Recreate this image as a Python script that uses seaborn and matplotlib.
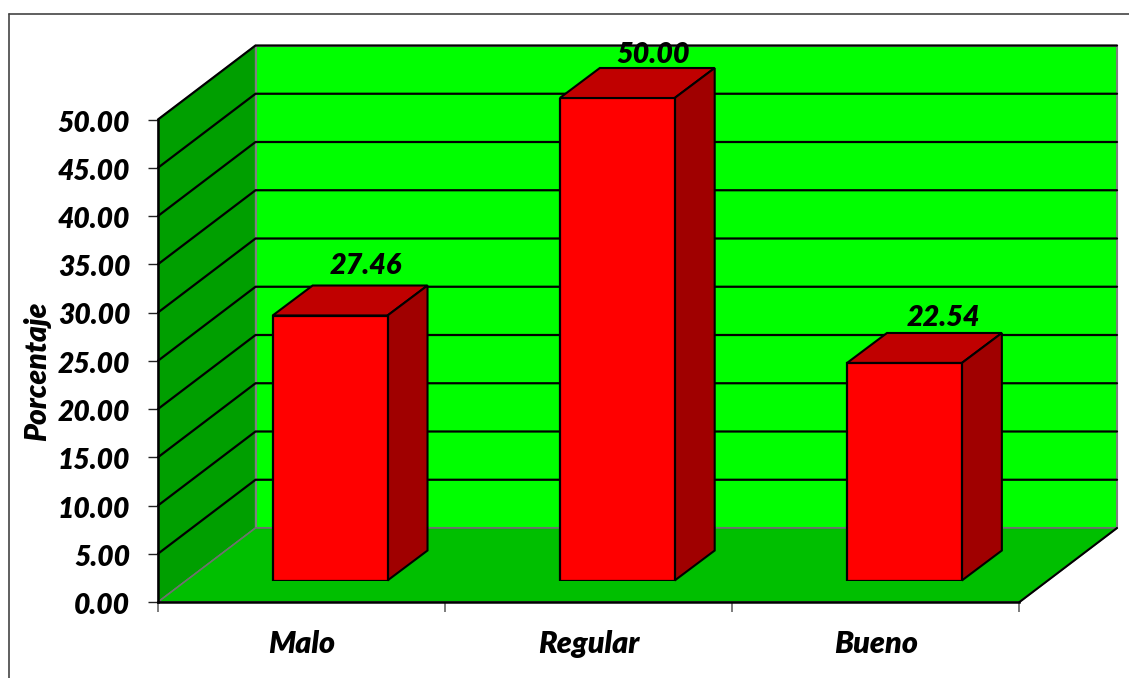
import numpy as np
import pandas as pd
import matplotlib
matplotlib.use("Agg")
import matplotlib.pyplot as plt
from matplotlib.lines import Line2D
from matplotlib.patches import Polygon
from matplotlib.transforms import ScaledTranslation
import seaborn as sns

categories = ["Malo", "Regular", "Bueno"]
values = [27.46, 50.00, 22.54]
y_ticks = [0, 5, 10, 15, 20, 25, 30, 35, 40, 45, 50]
y_label = "Porcentaje"
label_nudge_y_pts = [1.5, -3, -1.5]
label_nudge_x_pts = [-3.3, -3.3, -1]

sns.set_theme(style="white")
plt.rcParams["font.family"] = ["Lato", "DejaVu Sans"]

W, H = 1129, 678
fig = plt.figure(figsize=(W / 100, H / 100), dpi=100, facecolor="white")

# pixel geometry of the front plane
L, R, B, T = 158, 1019.5, 602, 119.5
ax = fig.add_axes([L / W, 1 - B / H, (R - L) / W, (B - T) / H])
ax.set_xlim(-0.5, 2.5)
ax.set_ylim(0, 50)
ax.set_facecolor("none")

px = 3 / (R - L)          # data x per pixel
py = 50 / (B - T)         # data y per pixel
DX, DY = 97.5 * px, 74 * py   # wall depth
x0, x1 = -0.5, 2.5

# Walls and floor
ax.add_patch(Polygon([(x0 + DX, DY), (x1 + DX, DY), (x1 + DX, 50 + DY), (x0 + DX, 50 + DY)],
                     fc="#00FF00", ec="#7f7f7f", lw=1.5, clip_on=False, zorder=1))
ax.add_patch(Polygon([(x0, 0), (x0 + DX, DY), (x0 + DX, 50 + DY), (x0, 50)],
                     fc="#009F00", ec="#7f7f7f", lw=1, clip_on=False, zorder=1))
ax.add_patch(Polygon([(x0, 0), (x1, 0), (x1 + DX, DY), (x0 + DX, DY)],
                     fc="#00BF00", ec="#6f6f6f", lw=1.2, clip_on=False, zorder=1.5))
ax.plot([x1, x1 + DX], [0, DY], color="black", lw=1.5, clip_on=False, zorder=2)

# Gridlines across side and back walls
for v in y_ticks[1:]:
    ax.plot([x0, x0 + DX, x1 + DX], [v, v + DY, v + DY], color="black", lw=1.6,
            clip_on=False, zorder=2, solid_joinstyle="miter")

# Axes furniture
sns.despine(ax=ax, top=True, right=True)
for s in ("left", "bottom"):
    ax.spines[s].set_color("black")
    ax.spines[s].set_linewidth(1.8)
    ax.spines[s].set_zorder(3)
text_kw = dict(fontweight="heavy", fontstyle="italic", color="black")
ax.set_yticks(y_ticks)
ax.set_yticklabels([f"{v:.2f}" for v in y_ticks], fontsize=20.3, **text_kw)
ax.tick_params(axis="y", length=7.5, width=1, color="#222222", pad=12.5, left=True)
shift = ScaledTranslation(0, -1.5 / 100, fig.dpi_scale_trans)
for lab in ax.get_yticklabels():
    lab.set_transform(lab.get_transform() + shift)
ax.set_xticks([0, 1, 2])
ax.set_xticklabels(categories, fontsize=22, **text_kw)
ax.set_xticks([-0.5, 0.5, 1.5, 2.5], minor=True)
ax.tick_params(axis="x", which="major", length=0, pad=20.5)
ax.tick_params(axis="x", which="minor", length=7, width=1.2, color="#666666", bottom=True)
ax.set_ylabel(y_label, fontsize=21.6, **text_kw)
ax.yaxis.set_label_coords((51 - L) / (R - L), (B - 371) / (B - T))

# Bars on a matching axes, shifted into the depth of the floor
SX, SY = 28.5, 21.5
ax_bar = fig.add_axes([(L + SX) / W, 1 - (B - SY) / H, (R - L) / W, (B - T) / H], facecolor="none")
df = pd.DataFrame({"categoria": categories, "valor": values})
sns.barplot(data=df, x="categoria", y="valor", ax=ax_bar, color="#FF0000", saturation=1,
            width=0.4, edgecolor="black", linewidth=1.6, zorder=4)
ax_bar.set_xlim(-0.5, 2.5)
ax_bar.set_ylim(0, 50)
ax_bar.axis("off")

BX, BY = 40 * px, 30 * py  # bar depth
for bar, v, nx, ny in zip(ax_bar.patches, values, label_nudge_x_pts, label_nudge_y_pts):
    xa = bar.get_x()
    xb = xa + bar.get_width()
    ax_bar.add_patch(Polygon([(xa, v), (xb, v), (xb + BX, v + BY), (xa + BX, v + BY)],
                             fc="#C00000", ec="black", lw=1.5, clip_on=False, zorder=3))
    ax_bar.add_patch(Polygon([(xb, 0), (xb + BX, BY), (xb + BX, v + BY), (xb, v)],
                             fc="#A00000", ec="black", lw=1.5, clip_on=False, zorder=3))
    ax_bar.annotate(f"{v:.2f}", ((xa + xb) / 2 + BX, v + BY), xytext=(nx, 3 + ny),
                    textcoords="offset points", ha="center", va="bottom",
                    fontsize=20.7, annotation_clip=False, zorder=5, **text_kw)

# Outer chart frame (left and top only reach the image)
frame = "#444444"
fig.add_artist(Line2D([9 / W, 9 / W], [0, 1 - 14 / H], color=frame, lw=1.2))
fig.add_artist(Line2D([9 / W, 1], [1 - 14 / H, 1 - 14 / H], color=frame, lw=1.2))

fig.savefig("out.png", dpi=100)
